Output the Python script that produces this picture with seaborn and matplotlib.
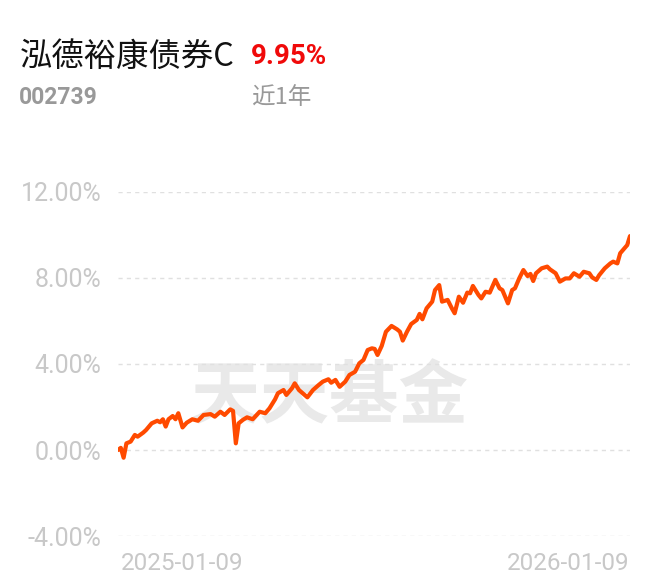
import pandas as pd
import seaborn as sns
import matplotlib.pyplot as plt
import matplotlib.ticker as mticker

# fund return data (days after 2025-01-09, cumulative %)
fund_name = "泓德裕康债券C"
fund_code = "002739"
period_return = "9.95%"
period_label = "近1年"
start_date = "2025-01-09"
end_date = "2026-01-09"

day_offsets = [0, 2, 4, 6, 9, 12, 14, 18, 20, 24, 28, 30, 32, 34, 36, 39, 41, 43, 46, 49,
               53, 57, 61, 66, 69, 73, 76, 80, 82, 84, 86, 89, 92, 96, 101, 105, 108, 112, 114, 118,
               120, 124, 126, 129, 135, 139, 143, 146, 150, 152, 155, 158, 162, 165, 169, 172, 175, 178, 181, 183,
               185, 188, 191, 195, 199, 201, 203, 206, 209, 213, 215, 217, 220, 224, 226, 229, 231, 235, 238, 240,
               243, 246, 249, 251, 253, 257, 259, 262, 265, 269, 272, 274, 278, 281, 283, 286, 289, 292, 294, 296,
               298, 302, 306, 308, 312, 315, 319, 322, 325, 329, 332, 336, 338, 341, 343, 347, 351, 353, 356, 358,
               361, 363, 365]
returns = [0.00, 0.10, -0.36, 0.31, 0.39, 0.70, 0.62, 0.81, 0.93, 1.24, 1.36, 1.29, 1.43, 1.09, 1.43, 1.58, 1.43, 1.71, 1.05, 1.27,
           1.43, 1.36, 1.63, 1.67, 1.55, 1.78, 1.63, 1.89, 1.82, 0.31, 1.24, 1.40, 1.52, 1.43, 1.78, 1.71, 1.94, 2.36, 2.64, 2.79,
           2.56, 2.87, 3.10, 2.79, 2.45, 2.79, 3.02, 3.18, 3.29, 3.13, 3.26, 2.94, 3.18, 3.49, 3.64, 4.03, 4.19, 4.65, 4.73, 4.70,
           4.42, 4.84, 5.50, 5.77, 5.61, 5.50, 5.09, 5.50, 5.86, 6.05, 6.33, 6.08, 6.59, 6.90, 7.44, 7.67, 6.90, 6.98, 6.59, 6.36,
           7.13, 6.85, 7.32, 7.29, 7.63, 7.21, 7.05, 7.36, 7.32, 7.91, 7.52, 7.44, 6.82, 7.44, 7.52, 7.98, 8.37, 8.09, 8.19, 7.86,
           8.22, 8.45, 8.53, 8.40, 8.22, 7.83, 7.98, 7.98, 8.22, 8.06, 8.29, 8.22, 8.03, 7.91, 8.13, 8.45, 8.68, 8.76, 8.68, 9.15,
           9.38, 9.53, 9.95]
y_ticks = [-4, 0, 4, 8, 12]

df = pd.DataFrame({
    "date": pd.to_datetime(start_date) + pd.to_timedelta(day_offsets, unit="D"),
    "ret": returns,
})

sns.set_style("white")
plt.rcParams["font.family"] = ["Roboto", "Noto Sans CJK SC", "DejaVu Sans"]

fig = plt.figure(figsize=(6.6, 5.85), dpi=100)
ax = fig.add_axes([118 / 660, 1 - 536 / 585, 512 / 660, 344 / 585])

# watermark
ax.text(0.415, 0.40, "天天基金", transform=ax.transAxes, ha="center", va="center",
        fontsize=50, fontweight="bold", color="#e9e9e9", family=["Noto Sans CJK SC"], zorder=0)

sns.lineplot(data=df, x="date", y="ret", ax=ax, color="#ff4a00", linewidth=3, zorder=3)

ax.set_ylim(-4, 12)
ax.set_xlim(df["date"].iloc[0], df["date"].iloc[-1])
ax.set_yticks(y_ticks)
ax.yaxis.set_major_formatter(mticker.FuncFormatter(lambda v, p: f"{v:.2f}%"))
ax.grid(axis="y", color="#e0e0e0", linestyle=(0, (3, 3)), linewidth=1)
ax.grid(axis="x", visible=False)
for s in ax.spines.values():
    s.set_visible(False)
ax.tick_params(axis="y", length=0, pad=12, labelsize=18, labelcolor="#c8c8c8")
ax.set_xticks([])
ax.set_xlabel("")
ax.set_ylabel("")

ax.text(0.005, -0.08, start_date, transform=ax.transAxes, ha="left", va="center",
        fontsize=17.5, color="#c8c8c8")
ax.text(1, -0.08, end_date, transform=ax.transAxes, ha="right", va="center",
        fontsize=17.5, color="#c8c8c8")

# header
fig.text(20 / 660, 1 - 57 / 585, fund_name, ha="left", va="center", fontsize=23.3,
         color="#111111", family=["Noto Sans CJK SC"])
fig.text(251 / 660, 1 - 57 / 585, period_return, ha="left", va="center", fontsize=20,
         fontweight="bold", color="#f00a0a")
fig.text(19 / 660, 1 - 97 / 585, fund_code, ha="left", va="center", fontsize=16.5,
         fontweight="bold", color="#999999")
fig.text(251 / 660, 1 - 97 / 585, period_label, ha="left", va="center", fontsize=17,
         color="#999999", family=["Noto Sans CJK SC", "Roboto"])

plt.savefig("out.png", dpi=100)
